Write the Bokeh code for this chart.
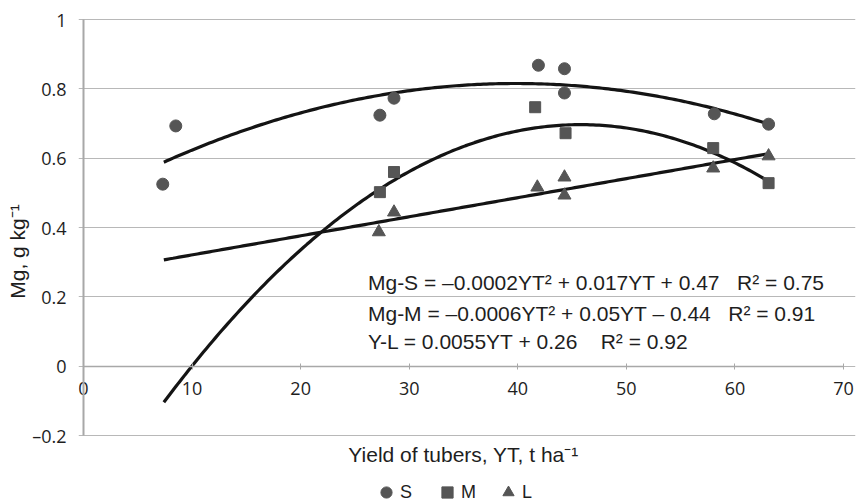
import numpy as np
from bokeh.plotting import figure
from bokeh.models import Range1d, FixedTicker, Legend, LegendItem, Label, LinearAxis
from bokeh.embed import file_html
from bokeh.resources import INLINE

# ---- data ----
x_S = [7.3, 8.5, 27.3, 28.6, 41.9, 44.3, 44.3, 58.1, 63.1]
y_S = [0.525, 0.693, 0.724, 0.773, 0.868, 0.858, 0.788, 0.728, 0.698]
x_M = [27.3, 28.6, 41.6, 44.4, 58.0, 63.1]
y_M = [0.502, 0.560, 0.747, 0.672, 0.629, 0.528]
x_L = [27.2, 28.6, 41.8, 44.3, 44.3, 58.0, 63.1]
y_L = [0.387, 0.444, 0.516, 0.545, 0.493, 0.571, 0.606]

# trend-line coefficients (highest power first) and span, as drawn
trend_S = [-0.000216, 0.0172, 0.473]
trend_M = [-0.000544, 0.0498, -0.443]
trend_L = [0.0055, 0.266]
trend_span = [7.4, 63.2]

NB = "\u00a0"
eq_texts = [
    "Mg-S = \u20130.0002YT\u00b2 + 0.017YT + 0.47" + NB * 3 + "R\u00b2 = 0.75",
    "Mg-M = \u20130.0006YT\u00b2 + 0.05YT \u2013 0.44" + NB * 3 + "R\u00b2 = 0.91",
    "Y-L = 0.0055YT + 0.26" + NB * 4 + "R\u00b2 = 0.92",
]
eq_y = [0.242, 0.153, 0.072]
eq_x = 26.2

x_ticks = [0, 10, 20, 30, 40, 50, 60, 70]
y_ticks = [-0.2, 0, 0.2, 0.4, 0.6, 0.8, 1.0]
y_tick_labels = ["\u20130.2", "0", "0.2", "0.4", "0.6", "0.8", "1"]

x_title = "Yield of tubers, YT, t ha\u207b\u00b9"
y_title = "Mg, g kg\u207b\u00b9"

# ---- layout (pixels) ----
W, H = 857, 502
frame_left = 78          # frame starts a little left of the x = 0 axis line
x0_px, x70_px = 83, 843  # where x = 0 and x = 70 sit
y1_px, ym02_px = 19, 435 # where y = 1 and y = -0.2 sit
ppx = (x70_px - x0_px) / 70.0
ppy = (ym02_px - y1_px) / 1.2
x_start = -(x0_px - frame_left) / ppx
x_end = x_start + (W - 2 - frame_left) / ppx
y_end = 1.0 + y1_px / ppy
y_start = -0.2 - (H - ym02_px) / ppy

p = figure(width=W, height=H, x_range=Range1d(x_start, x_end), y_range=Range1d(y_start, y_end),
           output_backend="svg", toolbar_location=None,
           min_border_left=frame_left, min_border_right=2, min_border_top=0, min_border_bottom=0)
p.outline_line_color = None
p.background_fill_color = "white"

grey = "#a8a8a8"
txt = "#1e1e1e"

# y grid
p.xgrid.grid_line_color = None
p.ygrid.ticker = FixedTicker(ticks=y_ticks)
p.ygrid.grid_line_color = "#b8b8b8"
p.ygrid.grid_line_width = 1

# y axis (labels + title)
ya = p.yaxis[0]
ya.ticker = FixedTicker(ticks=y_ticks)
ya.bounds = (-0.2, 1.0)
ya.major_label_overrides = {t: s for t, s in zip(y_ticks, y_tick_labels)}
ya.axis_line_color = None
ya.major_tick_line_color = None
ya.major_tick_in = 0
ya.major_tick_out = 0
ya.minor_tick_line_color = None
ya.minor_tick_in = 0
ya.minor_tick_out = 0
ya.major_label_standoff = 12
ya.major_label_text_font = "Open Sans"
ya.major_label_text_font_size = "18px"
ya.major_label_text_color = txt
ya.axis_label = y_title
ya.axis_label_text_font = "Liberation Sans"
ya.axis_label_text_font_size = "21px"
ya.axis_label_text_font_style = "normal"
ya.axis_label_text_color = txt
ya.axis_label_standoff = 0

# vertical axis line at x = 0
yline = LinearAxis(fixed_location=0, bounds=(-0.2, 1.0), ticker=FixedTicker(ticks=[]),
                   axis_line_color=grey, axis_line_width=2,
                   major_tick_line_color=None, minor_tick_line_color=None,
                   major_tick_in=0, major_tick_out=0, minor_tick_in=0, minor_tick_out=0,
                   major_label_standoff=0, major_label_text_font_size="0px")
p.add_layout(yline, "left")

# x axis drawn at y = 0
xa = p.xaxis[0]
xa.fixed_location = 0
xa.bounds = (0, 70)
xa.ticker = FixedTicker(ticks=x_ticks)
xa.axis_line_color = grey
xa.axis_line_width = 1.5
xa.major_tick_in = 3
xa.major_tick_out = 3
xa.major_tick_line_color = grey
xa.minor_tick_line_color = None
xa.major_label_standoff = 13
xa.major_label_text_font = "Open Sans"
xa.major_label_text_font_size = "18px"
xa.major_label_text_color = txt

# trend lines
xs = np.linspace(trend_span[0], trend_span[1], 200)
for coeffs in (trend_S, trend_M, trend_L):
    p.line(xs, np.polyval(coeffs, xs), line_color="#141414", line_width=3.2)

mk = "#555555"
rS = p.scatter(x_S, y_S, marker="circle", size=12, fill_color=mk, line_color=mk)
rM = p.scatter(x_M, y_M, marker="square", size=11, fill_color=mk, line_color=mk)
rL = p.scatter(x_L, y_L, marker="triangle", size=13, fill_color=mk, line_color=mk)

for t, yy in zip(eq_texts, eq_y):
    p.add_layout(Label(x=eq_x, y=yy, text=t, text_font="Liberation Sans",
                       text_font_size="21px", text_color=txt, text_baseline="middle"))

# x title, below the plotting area
p.add_layout(Label(x=35, y=-0.254, text=x_title, text_font="Liberation Sans",
                   text_font_size="21px", text_color=txt, text_align="center",
                   text_baseline="middle"))

legend = Legend(items=[LegendItem(label="S", renderers=[rS]),
                       LegendItem(label="M", renderers=[rM]),
                       LegendItem(label="L", renderers=[rL])],
                orientation="horizontal", location=(294, -4),
                border_line_color=None, background_fill_alpha=0,
                label_text_font="Liberation Sans", label_text_font_size="18px",
                label_text_color=txt, glyph_width=28, glyph_height=28,
                spacing=13, label_standoff=0, padding=0, margin=0)
p.add_layout(legend)

open("out.html", "w").write(file_html(p, INLINE))
